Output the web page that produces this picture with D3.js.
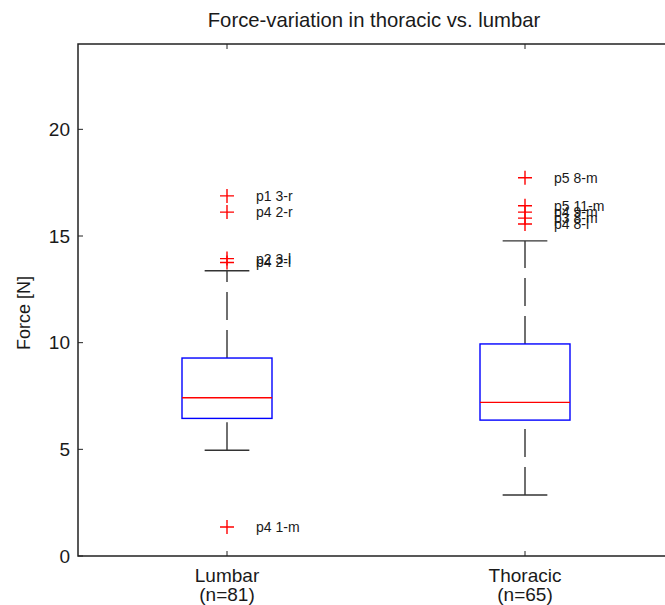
<!DOCTYPE html>
<html>
<head>
<meta charset="utf-8">
<script src="https://cdn.jsdelivr.net/npm/d3@7"></script>
<style>
  body { margin: 0; background: #fff; }
  text { font-family: "Liberation Sans", Arial, sans-serif; fill: #1a1a1a; }
</style>
</head>
<body>
<div id="chart"></div>
<script>
const categories = ['Lumbar', 'Thoracic'];
const counts = ['(n=81)', '(n=65)'];
const whiskerLow = [4.96, 2.86];
const q1 = [6.45, 6.37];
const median = [7.42, 7.2];
const q3 = [9.28, 9.94];
const whiskerHigh = [13.37, 14.77];

// outliers: group index, value, label
const outlierGroup = [0, 0, 0, 0, 0, 1, 1, 1, 1, 1];
const outlierValue = [16.88, 16.12, 13.94, 13.76, 1.36, 17.73, 16.42, 16.12, 15.84, 15.56];
const outlierLabel = ['p1 3-r', 'p4 2-r', 'p2 3-l', 'p4 2-l', 'p4 1-m',
  'p5 8-m', 'p5 11-m', 'p4 9-m', 'p3 8-m', 'p4 8-l'];

const yTicks = [0, 5, 10, 15, 20];

const width = 665, height = 605;
const svg = d3.select('#chart').append('svg')
  .attr('width', width)
  .attr('height', height);

// x domain runs 0.5..2.5, right edge falls outside the window
const x = d3.scaleLinear().domain([0.5, 2.5]).range([78, 674]);
const y = d3.scaleLinear().domain([0, 24]).range([556, 44]);

const axisColor = '#222';

// axes box
svg.append('path')
  .attr('d', `M${x(2.5)},${y(24)}H${x(0.5)}V${y(0)}H${x(2.5)}`)
  .attr('fill', 'none')
  .attr('stroke', axisColor)
  .attr('stroke-width', 1.5);

// y ticks (inward)
const yAxis = svg.append('g');
yAxis.selectAll('line').data(yTicks).join('line')
  .attr('x1', x(0.5)).attr('x2', x(0.5) + 5)
  .attr('y1', d => y(d)).attr('y2', d => y(d))
  .attr('stroke', axisColor);
yAxis.selectAll('text').data(yTicks).join('text')
  .attr('x', x(0.5) - 8)
  .attr('y', d => y(d))
  .attr('dy', '0.35em')
  .attr('text-anchor', 'end')
  .attr('font-size', 19)
  .text(d => d);

// x ticks top and bottom (inward)
const xAxis = svg.append('g');
categories.forEach((c, i) => {
  const cx = x(i + 1);
  xAxis.append('line').attr('x1', cx).attr('x2', cx)
    .attr('y1', y(0)).attr('y2', y(0) - 5).attr('stroke', axisColor);
  xAxis.append('line').attr('x1', cx).attr('x2', cx)
    .attr('y1', y(24)).attr('y2', y(24) + 5).attr('stroke', axisColor);
  xAxis.append('text').attr('x', cx).attr('y', 582)
    .attr('text-anchor', 'middle').attr('font-size', 19).text(c);
  xAxis.append('text').attr('x', cx).attr('y', 601)
    .attr('text-anchor', 'middle').attr('font-size', 19).text(counts[i]);
});

// title and y label
svg.append('text')
  .attr('x', 374).attr('y', 27)
  .attr('text-anchor', 'middle')
  .attr('font-size', 20.3)
  .text('Force-variation in thoracic vs. lumbar');

svg.append('text')
  .attr('transform', 'translate(30,313) rotate(-90)')
  .attr('text-anchor', 'middle')
  .attr('font-size', 18)
  .text('Force [N]');

// boxes
const halfBox = 0.151, halfCap = 0.075;
const boxes = svg.append('g');
categories.forEach((c, i) => {
  const pos = i + 1;
  const g = boxes.append('g');
  // whiskers drawn from low value up to high value
  g.append('line')
    .attr('x1', x(pos)).attr('x2', x(pos))
    .attr('y1', y(whiskerLow[i])).attr('y2', y(q1[i]))
    .attr('stroke', '#333').attr('stroke-width', 1.4)
    .attr('stroke-dasharray', '28,10');
  g.append('line')
    .attr('x1', x(pos)).attr('x2', x(pos))
    .attr('y1', y(q3[i])).attr('y2', y(whiskerHigh[i]))
    .attr('stroke', '#333').attr('stroke-width', 1.4)
    .attr('stroke-dasharray', '28,10');
  [whiskerLow[i], whiskerHigh[i]].forEach(v => {
    g.append('line')
      .attr('x1', x(pos - halfCap)).attr('x2', x(pos + halfCap))
      .attr('y1', y(v)).attr('y2', y(v))
      .attr('stroke', '#333').attr('stroke-width', 1.4);
  });
  g.append('rect')
    .attr('x', x(pos - halfBox))
    .attr('y', y(q3[i]))
    .attr('width', x(pos + halfBox) - x(pos - halfBox))
    .attr('height', y(q1[i]) - y(q3[i]))
    .attr('fill', 'none')
    .attr('stroke', '#0000ff')
    .attr('stroke-width', 1.4);
  g.append('line')
    .attr('x1', x(pos - halfBox)).attr('x2', x(pos + halfBox))
    .attr('y1', y(median[i])).attr('y2', y(median[i]))
    .attr('stroke', '#ff0000').attr('stroke-width', 1.4);
});

// outliers
const outliers = outlierValue.map((v, k) => ({ g: outlierGroup[k], v, label: outlierLabel[k] }));
const og = svg.append('g');
og.selectAll('path').data(outliers).join('path')
  .attr('d', d => {
    const px = x(d.g + 1), py = y(d.v);
    return `M${px - 7},${py}H${px + 7}M${px},${py - 7}V${py + 7}`;
  })
  .attr('stroke', '#ff0000')
  .attr('stroke-width', 1.4);
og.selectAll('text').data(outliers).join('text')
  .attr('x', d => x(d.g + 1) + 29)
  .attr('y', d => y(d.v))
  .attr('dy', '0.35em')
  .attr('font-size', 14)
  .text(d => d.label);
</script>
</body>
</html>
